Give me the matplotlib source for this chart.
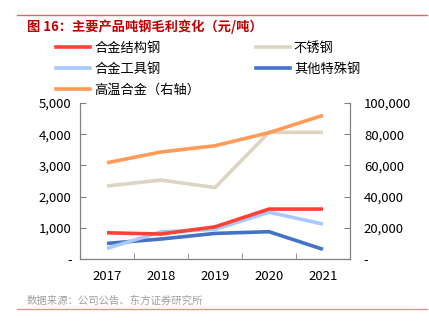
import numpy as np
import matplotlib.pyplot as plt
from matplotlib.lines import Line2D

plt.rcParams['font.family'] = ['Noto Sans CJK SC', 'DejaVu Sans']

years = ['2017', '2018', '2019', '2020', '2021']
alloy_struct = [840, 800, 1030, 1600, 1600]
stainless = [2340, 2530, 2290, 4060, 4060]
alloy_tool = [340, 870, 950, 1500, 1120]
other_special = [500, 640, 820, 875, 310]
superalloy = [61700, 68600, 72600, 81000, 92100]  # right axis

c_red = '#FF4136'
c_beige = '#DDD5C1'
c_lblue = '#A8C8FF'
c_dblue = '#4472C4'
c_orange = '#FF9B57'

fig = plt.figure(figsize=(4.29, 3.30), dpi=100)
ax = fig.add_axes([80/429, 1-259/330, 270/429, 156/330])
ax2 = ax.twinx()

x = np.arange(len(years))
lw = 2.6
ax.plot(x, stainless, color=c_beige, lw=lw, solid_capstyle='butt')
ax.plot(x, other_special, color=c_dblue, lw=lw, solid_capstyle='butt')
ax.plot(x, alloy_tool, color=c_lblue, lw=lw, solid_capstyle='butt')
ax.plot(x, alloy_struct, color=c_red, lw=lw, solid_capstyle='butt')
ax2.plot(x, superalloy, color=c_orange, lw=lw, solid_capstyle='butt')

ax.set_xlim(-0.5, 4.5)
ax.set_ylim(0, 5000)
ax2.set_ylim(0, 100000)

ax.set_xticks(x)
ax.set_xticklabels(years, fontsize=9.5)
ax.set_xticks([0.5, 1.5, 2.5, 3.5], minor=True)
ax.tick_params(axis='x', which='major', length=0, pad=8)
ax.tick_params(axis='x', which='minor', direction='in', length=4, color='#808080')

ax.set_yticks(np.arange(0, 5001, 1000))
ax.set_yticklabels(['-'] + [f'{v:,}' for v in range(1000, 5001, 1000)], fontsize=9.5)
ax.tick_params(axis='y', direction='in', length=4, color='#808080', pad=6)
ax2.set_yticks(np.arange(0, 100001, 20000))
ax2.set_yticklabels(['-'] + [f'{v:,}' for v in range(20000, 100001, 20000)], fontsize=9.5)
ax2.tick_params(axis='y', direction='in', length=4, color='#808080', pad=10)

for a in (ax, ax2):
    a.spines['top'].set_visible(False)
    for s in ('left', 'right', 'bottom'):
        a.spines[s].set_color('#808080')
        a.spines[s].set_linewidth(0.8)

handles = [
    Line2D([], [], color=c_red, lw=lw),
    Line2D([], [], color=c_lblue, lw=lw),
    Line2D([], [], color=c_orange, lw=lw),
    Line2D([], [], color=c_beige, lw=lw),
    Line2D([], [], color=c_dblue, lw=lw),
]
labels = ['合金结构钢', '合金工具钢', '高温合金（右轴）', '不锈钢', '其他特殊钢']
fig.legend(handles, labels, ncol=2, loc='upper left', bbox_to_anchor=(56/429, 1-42/330),
           frameon=False, fontsize=9.5, handlelength=2.6, handletextpad=0.3,
           columnspacing=4.2, labelspacing=0.6, borderpad=0, borderaxespad=0)

fig.add_artist(Line2D([17/429, 427/429], [1-15/330, 1-15/330], color='#E06666', lw=1))
fig.text(27/429, 1-27/330, '图 16：主要产品吨钢毛利变化（元/吨）', color='#C00000',
         fontsize=9.5, fontweight='bold', va='center', ha='left')
fig.text(27/429, 1-301/330, '数据来源：公司公告、东方证券研究所', color='#A0A0A0',
         fontsize=7.5, va='center', ha='left')
fig.add_artist(Line2D([17/429, 427/429], [1-309/330, 1-309/330], color='#E89090', lw=1))

fig.savefig('out.png', dpi=100)
